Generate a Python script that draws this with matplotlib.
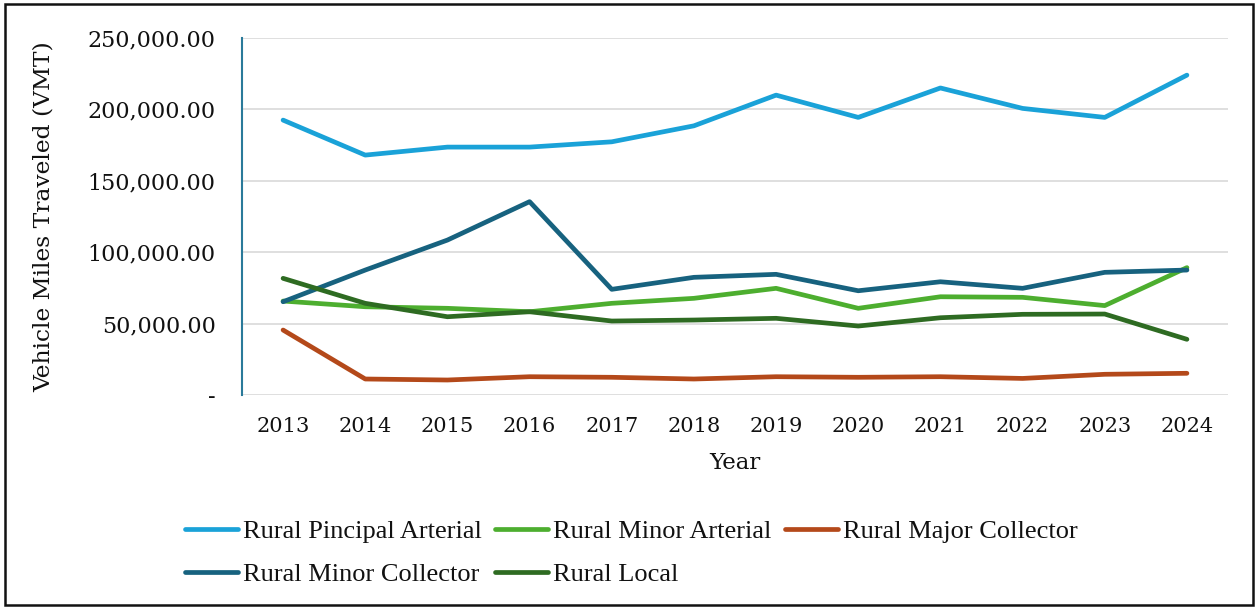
import matplotlib
matplotlib.use("Agg")
import matplotlib.pyplot as plt
from matplotlib.patches import Rectangle
from matplotlib.ticker import FuncFormatter, MultipleLocator

years = [2013, 2014, 2015, 2016, 2017, 2018, 2019, 2020, 2021, 2022, 2023, 2024]
principal_arterial = [192500, 168000, 173600, 173600, 177300, 188500, 210000, 194400, 215000, 200700, 194400, 224000]
minor_arterial = [65800, 61800, 60700, 58300, 64200, 67700, 74700, 60700, 68800, 68400, 62600, 89200]
major_collector = [45500, 11200, 10500, 12800, 12400, 11200, 12800, 12400, 12800, 11600, 14500, 15200]
minor_collector = [65300, 87500, 108500, 135400, 74000, 82400, 84500, 73000, 79300, 74700, 85900, 87500]
local = [81700, 64200, 54800, 58300, 51800, 52500, 53700, 48300, 54100, 56500, 56700, 39000]

series = [
    ("Rural Pincipal Arterial", principal_arterial, "#1AA2D8"),
    ("Rural Minor Arterial", minor_arterial, "#4DAE2F"),
    ("Rural Major Collector", major_collector, "#B4491A"),
    ("Rural Minor Collector", minor_collector, "#17627F"),
    ("Rural Local", local, "#2E6B22"),
]

W, H = 1257, 609
fig = plt.figure(figsize=(W / 100, H / 100), dpi=100)
fig.patch.set_facecolor("white")

ax = fig.add_axes([242 / W, 1 - 395 / H, (1228 - 242) / W, (395 - 38) / H])
x = list(range(len(years)))
lines = {}
for name, vals, color in series:
    (ln,) = ax.plot(x, vals, color=color, lw=3.4, solid_capstyle="round",
                    solid_joinstyle="round", label=name)
    lines[name] = ln

ax.set_xlim(-0.5, len(years) - 0.5)
ax.set_ylim(0, 250000)
ax.yaxis.set_major_locator(MultipleLocator(50000))
ax.yaxis.set_major_formatter(FuncFormatter(lambda v, p: "-" if v == 0 else f"{v:,.2f}"))
ax.set_xticks(x)
ax.set_xticklabels([str(y) for y in years])
ax.grid(axis="y", color="#D9D9D9", lw=1.2)
ax.set_axisbelow(True)
for s in ["top", "right", "bottom"]:
    ax.spines[s].set_visible(False)
ax.spines["left"].set_color("#2A7A9A")
ax.spines["left"].set_linewidth(1.5)
ax.tick_params(axis="both", length=0)
ax.tick_params(axis="y", pad=19)
ax.tick_params(axis="x", pad=16)

for lab in ax.get_yticklabels():
    lab.set_fontfamily("DejaVu Serif")
    lab.set_fontsize(16)
    lab.set_color("#111111")
for lab in ax.get_xticklabels():
    lab.set_fontfamily("DejaVu Serif")
    lab.set_fontsize(15)
    lab.set_color("#111111")

ax.set_ylabel("Vehicle Miles Traveled (VMT)", family="DejaVu Serif", size=16.8, color="#111111")
ax.yaxis.set_label_coords(-0.19, 0.5)
ax.set_xlabel("Year", family="DejaVu Serif", size=16.5, color="#111111")
ax.xaxis.set_label_coords(0.5, -0.16)

order = ["Rural Pincipal Arterial", "Rural Minor Collector", "Rural Minor Arterial",
         "Rural Local", "Rural Major Collector"]
leg = fig.legend([lines[n] for n in order], order, loc="upper left",
                 bbox_to_anchor=(185 / W, 1 - 520 / H), ncol=3, frameon=False,
                 prop=dict(family="Liberation Serif", size=19),
                 handlelength=2.0, handletextpad=0.2, columnspacing=0.5,
                 labelspacing=0.72, borderpad=0, borderaxespad=0)
for t in leg.get_texts():
    t.set_color("#111111")

fig.add_artist(Rectangle((5 / W, 4 / H), (1253 - 5) / W, (605 - 4) / H,
                         transform=fig.transFigure, fill=False, edgecolor="#111111", lw=1.8))

fig.savefig("out.png", dpi=100, facecolor="white")
